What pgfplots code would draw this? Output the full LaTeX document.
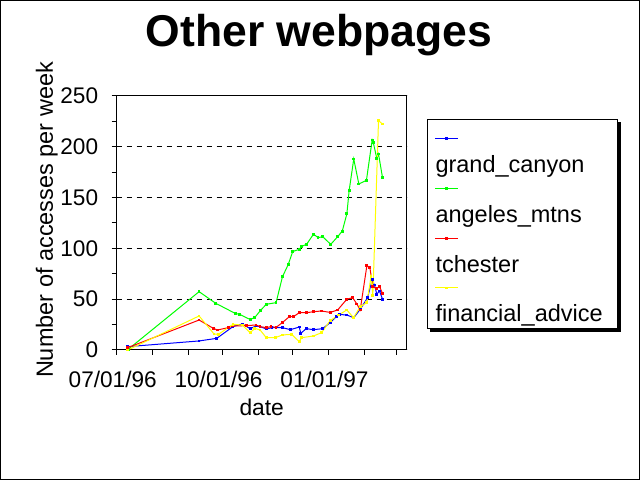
\documentclass[border=0pt]{standalone}
\usepackage{fontspec}
\setmainfont{Liberation Sans}
\usepackage{pgfplots}
\usepackage{pgfplotstable}
\pgfplotsset{compat=1.18}

\definecolor{xlblue}{rgb}{0,0,1}
\definecolor{xlgreen}{rgb}{0,1,0}
\definecolor{xlred}{rgb}{1,0,0}
\definecolor{xlyellow}{rgb}{1,1,0}

% x = days since 07/01/96
\pgfplotstableread{
day val
9.6 3.3
71.6 8.9
87 11.5
101 23
109 25.6
116 21
121 23.6
124.6 23
130 20.7
135 22
144 22
151 20
158.6 22.6
160 16.4
164.6 21
171 20
179 21
185.5 27
191 33
193.6 35
200 34.4
206 31.8
211.6 40
218 51.5
222 69
224 64
226 55
228.4 58
231 50
}\grandcanyon

\pgfplotstableread{
day val
10 0.7
71.6 57.4
86 46
103 36
107 35
116 30
120 32
125 39
130 45
138.5 46.6
144 72
149 84
153 97
158.6 99
160.6 102
165 104
171 114
175 110.6
179 111.5
186 104
192 111.5
196 117
200 134
202 157
206 188
210.4 163.4
217 167
222 206.7
223 204
226 188.6
227.5 193
231 169.6
}\angeles

\pgfplotstableread{
day val
9.6 2.3
71.6 29.5
84 21.3
87.5 19.7
97 22
101 23.6
113 24
121 24.6
124.6 23
130 22
134 23
138.5 22.3
144 27
150 32.8
153.6 32.8
158.6 36.7
165 36.7
171 37.7
178 38.4
185.5 37
192 39.4
200 50
205 51.5
208.7 45.3
211.6 39.4
217.4 83
220 81
222.6 62.3
226 60.7
228.4 62.3
231 55.8
}\tchester

\pgfplotstableread{
day val
9.6 0
71.6 33.5
84.6 15.7
88.4 15.4
101 25.3
109 24.6
116 17
120 21.3
124.6 19.7
130 12.1
137.7 12.1
144 14.8
152 15.4
158.6 8.2
160.6 12.1
171 13.8
178 17
185.5 28.9
192.8 34.4
200 39.4
205.8 31.8
211.6 42.6
217.4 46.6
221 72
222.6 54
227.5 225.7
231 222.4
}\financial

\begin{document}
\begin{tikzpicture}
\path[use as bounding box] (0,0) rectangle (640bp,480bp);
\draw[line width=1bp] (0.5bp,0.5bp) rectangle (639.5bp,479.5bp);

\node[anchor=base, font=\fontsize{44.5bp}{50bp}\selectfont\bfseries] at (319bp,433bp) {Other webpages};

\begin{axis}[
    at={(116.7bp,130bp)}, anchor=south west,
    scale only axis,
    width=290bp, height=254bp,
    xmin=0, xmax=252, ymin=0, ymax=250,
    axis line style={line width=1bp},
    every tick/.style={black, line width=1bp},
    tick align=outside,
    xtick pos=bottom, ytick pos=left,
    major tick length=5bp, minor tick length=5bp,
    ytick={0,50,...,250}, minor y tick num=1,
    xtick={0,31,62,92,123,153,184,215,243},
    xticklabels={07/01/96,,,10/01/96,,,01/01/97,,},
    ymajorgrids,
    major grid style={black, line width=1bp, dash pattern=on 5.5bp off 4.5bp},
    /pgf/number format/assume math mode=true,
    tick label style={font=\fontsize{22.6bp}{26bp}\selectfont},
    yticklabel style={anchor=east, inner sep=0pt, xshift=-13.4bp},
    xticklabel style={anchor=base, inner sep=0pt, yshift=-33bp, xshift=-4bp},
    xlabel={date},
    ylabel={Number of accesses per week},
    every axis x label/.style={at={(axis description cs:0.5,-0.256)}, anchor=base,
        font=\fontsize{22.8bp}{26bp}\selectfont},
    every axis y label/.style={at={(axis description cs:-0.2197,0.512)}, rotate=90, anchor=base,
        font=\fontsize{23.5bp}{26bp}\selectfont},
    every axis plot/.append style={line width=1bp, mark=square*, mark size=0.9bp},
    legend cell align=left,
    legend image code/.code={
        \draw[#1,overlay,mark repeat=2,mark phase=2] plot coordinates {(0bp,28.5bp) (11.35bp,28.5bp) (22.7bp,28.5bp)};
        \path (0bp,-10.5bp) (0bp,45.9bp);
    },
    legend style={
        name=lgd,
        at={(1.070,0.909)}, anchor=north west,
        draw=black, line width=1bp, fill=white,
        inner xsep=7bp, inner ysep=1.3bp,
        row sep=-7.7bp, column sep=0pt,
        font=\fontsize{23.5bp}{28bp}\selectfont,
        nodes={inner sep=0pt, text height=16bp, text depth=5bp, text width=175bp},
    },
]
\addplot[xlblue, mark options={solid, fill=xlblue}] table {\grandcanyon};
\addlegendentry{grand\_canyon}
\addplot[xlgreen, mark options={solid, fill=xlgreen}] table {\angeles};
\addlegendentry{angeles\_mtns}
\addplot[xlred, mark options={solid, fill=xlred}] table {\tchester};
\addlegendentry{tchester}
\addplot[xlyellow, mark options={solid, fill=xlyellow}] table {\financial};
\addlegendentry{financial\_advice}
\end{axis}
% drop shadow of the legend box
\fill[black] ([xshift=3bp]lgd.south west) rectangle ([xshift=3bp,yshift=-3bp]lgd.south east);
\fill[black] ([yshift=-3bp]lgd.north east) rectangle ([xshift=3bp]lgd.south east);
\end{tikzpicture}
\end{document}
